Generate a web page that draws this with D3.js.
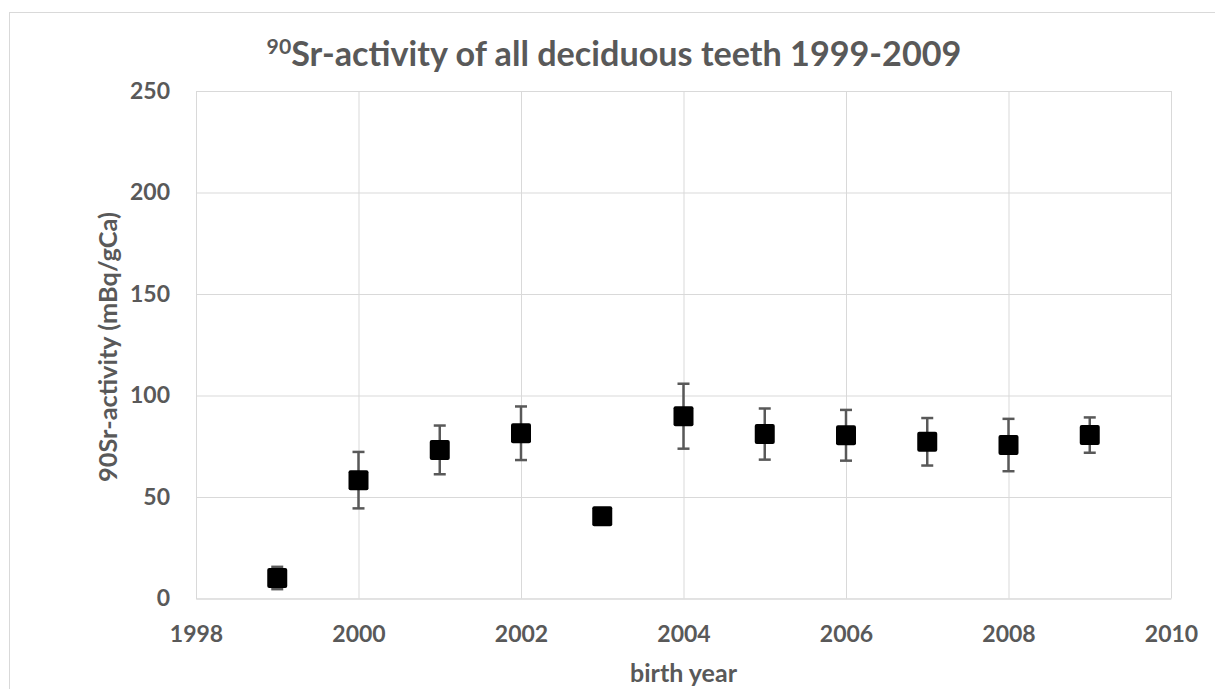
<!DOCTYPE html>
<html>
<head>
<meta charset="utf-8">
<script src="https://cdn.jsdelivr.net/npm/d3@7"></script>
<style>
  body { margin: 0; background: #fff; }
  text { font-family: Lato, "Open Sans", sans-serif; font-weight: bold; fill: #595959; }
</style>
</head>
<body>
<div class="sr_chart"></div>
<script>
// values
const years = [1999, 2000, 2001, 2002, 2003, 2004, 2005, 2006, 2007, 2008, 2009];
const activity = [10.1, 58.3, 73.2, 81.4, 40.5, 89.8, 81.0, 80.4, 77.2, 75.6, 80.5];
const errors = [5.5, 13.9, 12.0, 13.2, 3.0, 16.0, 12.6, 12.5, 11.7, 12.9, 8.7];
const xTicks = [1998, 2000, 2002, 2004, 2006, 2008, 2010];
const yTicks = [0, 50, 100, 150, 200, 250];
const titleSup = "90";
const titleMain = "Sr-activity of all deciduous teeth 1999-2009";
const xTitle = "birth year";
const yTitle = "90Sr-activity (mBq/gCa)";

function SrChart(width = 1215, height = 689) {
    const margin = {top: 91, right: 44, bottom: 90.5, left: 196};
    const translate = (x, y) => 'translate(' + x + ', ' + y + ')';
    const gridColor = "#d9d9d9";

    const svg = d3.select(".sr_chart")
                  .append("svg")
                      .attr("width", width)
                      .attr("height", height);

    // chart area frame (runs off the right and bottom edge)
    svg.append("rect")
       .attr("x", 9.5)
       .attr("y", 12.5)
       .attr("width", width)
       .attr("height", height)
       .attr("fill", "none")
       .attr("stroke", gridColor);

    const x = d3.scaleLinear()
                .domain([1998, 2010])
                .range([margin.left, width - margin.right]);

    const y = d3.scaleLinear()
                .domain([0, 250])
                .range([height - margin.bottom, margin.top]);

    const plotW = x.range()[1] - x.range()[0];
    const plotH = y.range()[0] - y.range()[1];

    /* Axes with gridlines */
    const yAxis = svg.append("g")
                     .attr("transform", translate(margin.left, 0))
                     .call(d3.axisLeft(y)
                             .tickValues(yTicks)
                             .tickSize(-plotW)
                             .tickSizeOuter(0)
                             .tickPadding(26));

    const xAxis = svg.append("g")
                     .attr("transform", translate(0, y(0)))
                     .call(d3.axisBottom(x)
                             .tickValues(xTicks)
                             .tickFormat(d3.format("d"))
                             .tickSize(-plotH)
                             .tickSizeOuter(0)
                             .tickPadding(27));

    [xAxis, yAxis].forEach(a => {
        a.select(".domain").attr("stroke", gridColor);
        a.selectAll(".tick line").attr("stroke", gridColor);
        a.selectAll(".tick text")
         .attr("fill", "#595959")
         .attr("font-size", "23px");
    });

    /* Error bars */
    const capW = 12;
    const bars = svg.append("g")
                    .attr("stroke", "#595959")
                    .attr("stroke-width", 2.5)
                    .selectAll("g")
                    .data(years)
                    .enter()
                    .append("g");

    bars.append("line")
        .attr("x1", (d) => x(d))
        .attr("x2", (d) => x(d))
        .attr("y1", (d, i) => y(activity[i] - errors[i]))
        .attr("y2", (d, i) => y(activity[i] + errors[i]));

    [-1, 1].forEach(s => {
        bars.append("line")
            .attr("x1", (d) => x(d) - capW / 2)
            .attr("x2", (d) => x(d) + capW / 2)
            .attr("y1", (d, i) => y(activity[i] + s * errors[i]))
            .attr("y2", (d, i) => y(activity[i] + s * errors[i]));
    });

    /* Square markers */
    const size = 20;
    svg.append("g")
       .selectAll("rect")
       .data(years)
       .enter()
       .append("rect")
           .attr("x", (d) => x(d) - size / 2)
           .attr("y", (d, i) => y(activity[i]) - size / 2)
           .attr("width", size)
           .attr("height", size)
           .attr("rx", 2)
           .attr("fill", "#000");

    // shrink or grow a label until it is as wide as in the original
    function fit(sel, target) {
        const w = sel.node().getComputedTextLength();
        const fs = parseFloat(sel.attr("font-size"));
        sel.attr("font-size", (fs * target / w) + "px");
    }

    /* Titles */
    const title = svg.append("text")
                     .attr("x", 614)
                     .attr("y", 66)
                     .attr("text-anchor", "middle")
                     .attr("font-size", "32px");
    title.append("tspan")
         .attr("font-size", "0.62em")
         .attr("dy", "-0.55em")
         .text(titleSup);
    title.append("tspan")
         .attr("dy", "0.34em")
         .text(titleMain);
    fit(title, 695);

    const xt = svg.append("text")
                  .attr("x", 683.5)
                  .attr("y", 681.5)
                  .attr("text-anchor", "middle")
                  .attr("font-size", "23px")
                  .text(xTitle);
    fit(xt, 107);

    const yt = svg.append("text")
                  .attr("transform", translate(117, 347) + " rotate(-90)")
                  .attr("text-anchor", "middle")
                  .attr("font-size", "23px")
                  .text(yTitle);
    fit(yt, 270);
}

SrChart();
</script>
</body>
</html>
